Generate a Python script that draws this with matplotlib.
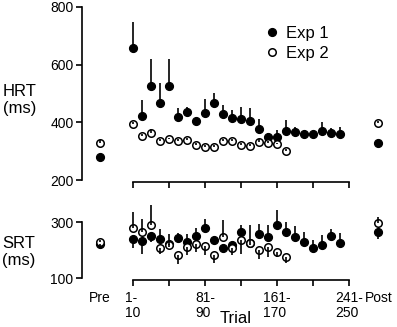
import matplotlib
matplotlib.use('Agg')
import matplotlib.pyplot as plt
import numpy as np

plt.rcParams['font.family'] = ['Liberation Sans', 'DejaVu Sans']

# trial blocks (10 trials each); Pre and Post sit off the axis
blocks1 = np.arange(1, 25)
blocks2 = np.arange(1, 19)
pre_x = -2.67
post_x = 28.26

# HRT (ms), Exp 1 / Exp 2, with error size and direction (+1 up, -1 down)
hrt1 = [657, 423, 526, 466, 526, 417, 435, 405, 431, 466, 428, 414,
        412, 406, 378, 350, 350, 371, 368, 358, 358, 371, 364, 358]
hrt1_err = [92, 54, 93, 71, 93, 32, 17, 10, 49, 35, 32, 29,
            40, 43, 34, 12, 23, 37, 17, 10, 8, 31, 17, 27]
hrt2 = [394, 353, 362, 335, 341, 335, 338, 321, 316, 316, 335, 335,
        321, 318, 331, 327, 324, 301]
hrt2_err = [8, 6, 15, 6, 6, 6, 6, 6, 6, 6, 6, 6, 6, 6, 12, 8, 6, 6]
hrt_pre = [281, 329]; hrt_pre_err = [-10, 8]
hrt_post = [329, 397]; hrt_post_err = [5, 8]

# SRT (ms)
srt1 = [238, 233, 250, 241, 222, 243, 228, 251, 278, 236, 208, 220,
        263, 224, 259, 247, 290, 264, 247, 228, 209, 220, 250, 227]
srt1_err = [-29, -45, -20, 35, -10, 18, 30, 29, 32, 10, -10, 10,
            25, -5, 35, 41, 51, 36, 39, 36, 26, 33, 26, 34]
srt2 = [277, 263, 291, 208, 220, 182, 210, 223, 214, 182, 246, 208,
        235, 226, 202, 212, 194, 176]
srt2_err = [58, 49, 68, -20, 37, -32, -28, -29, -32, -29, 62, -26,
            -47, 62, -32, -36, -18, -23]
srt_pre = [222, 230]; srt_pre_err = [-8, 5]
srt_post = [264, 296]; srt_post_err = [-23, 21]

xtick_pos = [1, 5, 9, 13, 17, 21, 25]
xtick_lab = ['1-\n10', '', '81-\n90', '', '161-\n170', '', '241-\n250']

fig = plt.figure(figsize=(3.97, 3.27), dpi=100)
ax1 = fig.add_axes([82/397, 147/327, 308/397, 173/327])
ax2 = fig.add_axes([82/397, 48.7/327, 308/397, 56.3/327])


def draw(ax, x, y, err, filled, label=None):
    x = np.asarray(x, float); y = np.asarray(y, float); err = np.asarray(err, float)
    if filled:
        ax.plot(x, y, 'o', ms=5.6, mfc='black', mec='black', mew=1,
                ls='none', label=label, clip_on=False, zorder=3)
    else:
        ax.plot(x, y, 'o', ms=5.4, mfc='white', mec='black', mew=1.1,
                ls='none', label=label, clip_on=False, zorder=4)
    ax.vlines(x, y, y + err, color='black', lw=1.2, zorder=5, clip_on=False)


draw(ax1, blocks1, hrt1, hrt1_err, True, 'Exp 1')
draw(ax1, blocks2, hrt2, hrt2_err, False, 'Exp 2')
draw(ax1, [pre_x], hrt_pre[:1], hrt_pre_err[:1], True)
draw(ax1, [pre_x], hrt_pre[1:], hrt_pre_err[1:], False)
draw(ax1, [post_x], hrt_post[:1], hrt_post_err[:1], True)
draw(ax1, [post_x], hrt_post[1:], hrt_post_err[1:], False)

draw(ax2, blocks1, srt1, srt1_err, True)
draw(ax2, blocks2, srt2, srt2_err, False)
draw(ax2, [pre_x], srt_pre[:1], srt_pre_err[:1], True)
draw(ax2, [pre_x], srt_pre[1:], srt_pre_err[1:], False)
draw(ax2, [post_x], srt_post[:1], srt_post_err[:1], True)
draw(ax2, [post_x], srt_post[1:], srt_post_err[1:], False)

for ax in (ax1, ax2):
    ax.set_xlim(-4.67, 29.55)
    for s in ('top', 'right'):
        ax.spines[s].set_visible(False)
    ax.spines['left'].set_linewidth(1.2)
    ax.spines['bottom'].set_linewidth(1.2)
    ax.spines['bottom'].set_bounds(1, 25)
    ax.tick_params(axis='both', width=1.2, length=4.2, labelsize=10, pad=2)
    ax.tick_params(axis='x', labelsize=10, pad=4)

ax1.set_ylim(200, 800)
ax1.set_yticks([200, 400, 600, 800])
ax1.spines['bottom'].set_position(('outward', 1.5))
ax1.set_xticks(xtick_pos)
ax1.set_xticklabels([])

ax2.set_ylim(100, 300)
ax2.set_yticks([100, 300])
ax2.spines['bottom'].set_position(('outward', 1))
ax2.set_xticks([pre_x] + xtick_pos + [post_x])
ax2.set_xticklabels(['Pre'] + xtick_lab + ['Post'])
for lab in ax2.get_xticklabels():
    lab.set_multialignment('left')
    lab.set_linespacing(1.05)
ticks = ax2.xaxis.get_major_ticks()
for t in (ticks[0], ticks[-1]):
    t.tick1line.set_visible(False)
ax2.set_xlabel('Trial', fontsize=12, labelpad=-6)

fig.text(20/397, 1 - 100/327, 'HRT\n(ms)', fontsize=12, ha='center', va='center')
fig.text(19/397, 1 - 252/327, 'SRT\n(ms)', fontsize=12, ha='center', va='center')

ax1.legend(loc='upper left', bbox_to_anchor=(266/397, 1 - 26/327),
           bbox_transform=fig.transFigure, frameon=False, fontsize=12,
           handlelength=0.7, handletextpad=0.5, labelspacing=0.3,
           borderaxespad=0, borderpad=0)

fig.savefig('out.png', dpi=100)
